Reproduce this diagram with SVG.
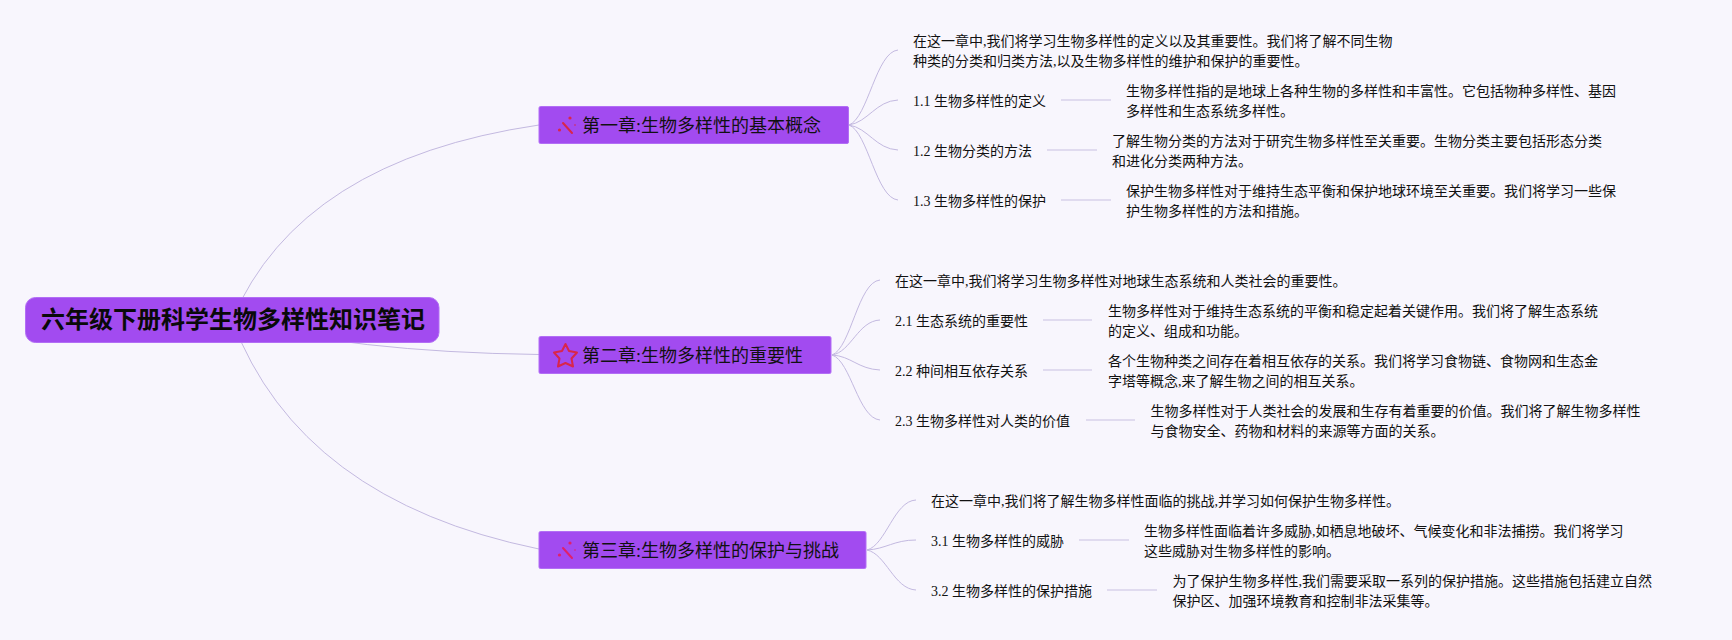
<svg xmlns="http://www.w3.org/2000/svg" width="1732" height="640" viewBox="0 0 1732 640">
<style>
text{font-family:"Liberation Serif","Noto Sans CJK SC",serif;fill:#111;font-size:14px}
.root text{font-family:"Noto Sans CJK SC",sans-serif;font-size:24px;font-weight:700;fill:#0a0a0a}
.ch text{font-family:"Liberation Serif","Noto Sans CJK SC",serif;font-size:18px;fill:#111}
.box{fill:#a24bf0;stroke:#b26ef5;stroke-width:1}
.c{fill:none;stroke:#c3b9e0;stroke-width:1}
.u{fill:none;stroke:#d8d2ea;stroke-width:1.5}
.ic{fill:none;stroke:#d9264a;stroke-width:2;stroke-linecap:round}
.d{fill:#d9264a}
</style>
<rect width="1732" height="640" fill="#f8f6fd"/>
<g id="connectors">
<path class="c" d="M232 320Q300 160 539 125"/>
<path class="c" d="M232 320Q350 352 539 354.5"/>
<path class="c" d="M232 320Q300 500 539 549"/>
<path class="c" d="M849 125C868 118 876 52 898 50"/>
<path class="c" d="M849 125C868 122 876 101 898 100"/>
<path class="c" d="M849 125C868 128 876 149 898 150"/>
<path class="c" d="M849 125C868 132 876 198 898 200"/>
<path class="c" d="M832 355C851 348 858 282 880 280"/>
<path class="c" d="M832 355C851 352 858 321 880 320"/>
<path class="c" d="M832 355C851 356 858 369 880 370"/>
<path class="c" d="M832 355C851 361 858 418 880 420"/>
<path class="c" d="M867 550C886 545 894 501 916 500"/>
<path class="c" d="M867 550C886 549 894 540 916 540"/>
<path class="c" d="M867 550C886 554 894 589 916 590"/>
<path class="u" d="M1061 100H1111M1047 150H1097M1061 200H1111M1043 320H1092M1043 370H1092M1086 420H1135M1079 540H1129M1107 590H1157"/>
</g>
<g id="root" class="root"><rect class="box" x="25.5" y="297.5" width="413.5" height="45" rx="10"/><text x="41" y="328">六年级下册科学生物多样性知识笔记</text></g>
<g id="ch1" class="ch"><rect class="box" x="539" y="106.5" width="309.5" height="37" rx="1.5"/>
<path class="ic" d="M563 123L572 133"/><circle class="d" cx="570" cy="118" r="1.600"/><circle class="d" cx="559.500" cy="130" r="1.600"/><circle class="d" cx="575" cy="125" r="0.800"/><text x="582" y="132">第一章:生物多样性的基本概念</text></g>
<g id="ch2" class="ch"><rect class="box" x="539" y="336.500" width="292" height="37" rx="1.500"/>
<path class="ic" d="M565.500 344L569 351L577 352.500L571.500 358.500L573 366.500L565.500 363L558 366.500L559.500 358.500L554 352.500L562 351Z" stroke-linejoin="round"/><text x="582" y="362">第二章:生物多样性的重要性</text></g>
<g id="ch3" class="ch"><rect class="box" x="539" y="531.500" width="327" height="37" rx="1.500"/>
<path class="ic" d="M563 548L572 558" style="stroke:#e0206a"/><circle class="d" style="fill:#e0206a" cx="570" cy="543" r="1.600"/><circle class="d" style="fill:#e0206a" cx="559.500" cy="555" r="1.600"/><circle class="d" style="fill:#e0206a" cx="575" cy="550" r="0.800"/><text x="582" y="557">第三章:生物多样性的保护与挑战</text></g>
<g id="n1p"><text x="913" y="45.700">在这一章中,我们将学习生物多样性的定义以及其重要性。我们将了解不同生物</text><text x="913" y="65.700">种类的分类和归类方法,以及生物多样性的维护和保护的重要性。</text></g>
<g id="n11"><text x="913" y="106">1.1 生物多样性的定义</text></g>
<g id="n11d"><text x="1126" y="95.700">生物多样性指的是地球上各种生物的多样性和丰富性。它包括物种多样性、基因</text><text x="1126" y="115.700">多样性和生态系统多样性。</text></g>
<g id="n12"><text x="913" y="156">1.2 生物分类的方法</text></g>
<g id="n12d"><text x="1112" y="145.700">了解生物分类的方法对于研究生物多样性至关重要。生物分类主要包括形态分类</text><text x="1112" y="165.700">和进化分类两种方法。</text></g>
<g id="n13"><text x="913" y="206">1.3 生物多样性的保护</text></g>
<g id="n13d"><text x="1126" y="195.700">保护生物多样性对于维持生态平衡和保护地球环境至关重要。我们将学习一些保</text><text x="1126" y="215.700">护生物多样性的方法和措施。</text></g>
<g id="n2p"><text x="895" y="285.700">在这一章中,我们将学习生物多样性对地球生态系统和人类社会的重要性。</text></g>
<g id="n21"><text x="895" y="326">2.1 生态系统的重要性</text></g>
<g id="n21d"><text x="1108" y="315.700">生物多样性对于维持生态系统的平衡和稳定起着关键作用。我们将了解生态系统</text><text x="1108" y="335.700">的定义、组成和功能。</text></g>
<g id="n22"><text x="895" y="376">2.2 种间相互依存关系</text></g>
<g id="n22d"><text x="1108" y="365.700">各个生物种类之间存在着相互依存的关系。我们将学习食物链、食物网和生态金</text><text x="1108" y="385.700">字塔等概念,来了解生物之间的相互关系。</text></g>
<g id="n23"><text x="895" y="426">2.3 生物多样性对人类的价值</text></g>
<g id="n23d"><text x="1150.500" y="415.700">生物多样性对于人类社会的发展和生存有着重要的价值。我们将了解生物多样性</text><text x="1150.500" y="435.700">与食物安全、药物和材料的来源等方面的关系。</text></g>
<g id="n3p"><text x="931" y="505.700">在这一章中,我们将了解生物多样性面临的挑战,并学习如何保护生物多样性。</text></g>
<g id="n31"><text x="931" y="546">3.1 生物多样性的威胁</text></g>
<g id="n31d"><text x="1144" y="535.700">生物多样性面临着许多威胁,如栖息地破坏、气候变化和非法捕捞。我们将学习</text><text x="1144" y="555.700">这些威胁对生物多样性的影响。</text></g>
<g id="n32"><text x="931" y="596">3.2 生物多样性的保护措施</text></g>
<g id="n32d"><text x="1172.500" y="585.700">为了保护生物多样性,我们需要采取一系列的保护措施。这些措施包括建立自然</text><text x="1172.500" y="605.700">保护区、加强环境教育和控制非法采集等。</text></g>
</svg>
